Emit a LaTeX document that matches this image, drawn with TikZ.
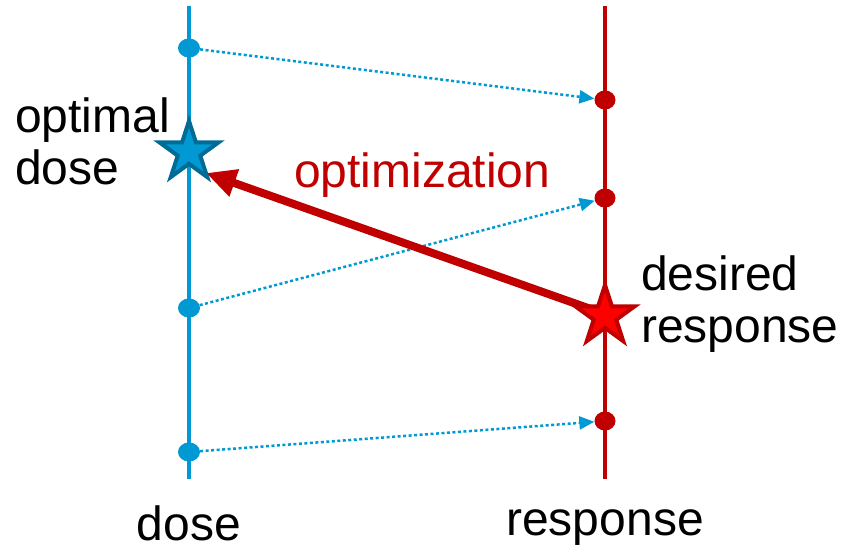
\documentclass[tikz,border=0pt]{standalone}
\usepackage{fontspec}
\setmainfont{Liberation Sans}
\usetikzlibrary{arrows.meta,shapes.geometric}
\definecolor{doseblue}{RGB}{0,153,211}
\definecolor{starblue}{RGB}{0,108,150}
\definecolor{respred}{RGB}{192,0,0}
\definecolor{starred}{RGB}{255,0,0}
\begin{document}
\begin{tikzpicture}[x=1pt,y=-1pt,
  axisline/.style={line width=4pt},
  bdot/.style={ellipse, fill=doseblue, minimum width=22pt, minimum height=19pt, inner sep=0pt},
  rdot/.style={ellipse, fill=respred, minimum width=21pt, minimum height=19pt, inner sep=0pt},
  mapping/.style={doseblue, line width=2.5pt, dash pattern=on 3pt off 2.5pt,
    -{Triangle[length=15pt,width=13pt]}},
  starmark/.style={star, star points=5, star point ratio=2.618, minimum size=62pt,
    inner sep=0pt, line width=4pt, line join=miter},
  lbl/.style={font=\fontsize{48}{52}\selectfont, align=left, inner sep=0pt}
]
\useasboundingbox (0,0) rectangle (863,546);

% the two scales
\draw[axisline, doseblue] (189,6) -- (189,479);
\draw[axisline, respred] (605,6) -- (605,479);

% sample points on each scale
\node[bdot] (b1) at (189,48) {};
\node[bdot] (b2) at (189,308) {};
\node[bdot] (b3) at (189,452) {};
\node[rdot] (r1) at (605,100) {};
\node[rdot] (r2) at (605,198) {};
\node[rdot] (r3) at (605,421) {};

% dose -> response mappings
\draw[mapping] (b1) -- (r1);
\draw[mapping] (b2) -- (r2);
\draw[mapping] (b3) -- (r3);

% optimization arrow, from the desired response back to the dose
\coordinate (tip) at (206,173);
\coordinate (start) at (605,314);
\draw[respred, line width=8pt, -{Triangle[length=30pt,width=27pt]}] (start) -- (tip);

% stars
\node[starmark, draw=starblue, fill=doseblue] (bstar) at (189,152) {};
\node[starmark, draw=respred, fill=starred] (rstar) at (605,316) {};

% labels
\node[lbl, anchor=base west] (optlbl) at (15,184) {optimal\\dose};
\node[lbl, anchor=base west, text=respred] (optim) at (294,187) {optimization};
\node[lbl, anchor=base west] (deslbl) at (641,342) {desired\\response};
\node[lbl, anchor=base] (doselbl) at (189,540) {dose};
\node[lbl, anchor=base] (resplbl) at (605,535) {response};
\end{tikzpicture}
\end{document}
